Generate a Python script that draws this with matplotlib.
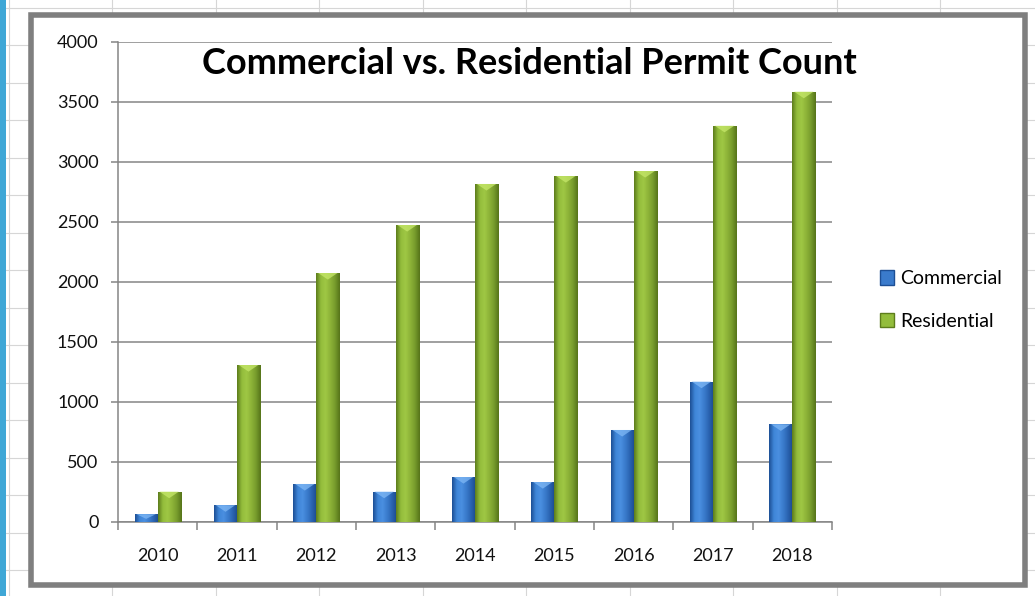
import matplotlib.pyplot as plt
import numpy as np
from matplotlib.patches import Rectangle, Polygon, Patch
from matplotlib.lines import Line2D
from matplotlib.colors import LinearSegmentedColormap

years = ["2010", "2011", "2012", "2013", "2014", "2015", "2016", "2017", "2018"]
commercial = [65, 140, 317, 253, 375, 333, 767, 1170, 814]
residential = [253, 1308, 2075, 2475, 2817, 2883, 2925, 3302, 3586]

W, H = 1035, 596
plt.rcParams["font.family"] = ["Lato", "DejaVu Sans"]

fig = plt.figure(figsize=(W / 100, H / 100), dpi=100)
fig.patch.set_facecolor("white")

def px(x, y):
    # pixel coords (top-left origin) -> figure fraction
    return x / W, 1 - y / H

# spreadsheet grid behind the chart
for gx in np.arange(8.5, W, 103.5):
    fig.add_artist(Line2D([gx / W, gx / W], [0, 1], color="#d6d6d6", lw=0.8, zorder=0.1))
for gy in np.arange(7.5, H, 37.5):
    fig.add_artist(Line2D([0, 1], [1 - gy / H, 1 - gy / H], color="#d6d6d6", lw=0.8, zorder=0.1))
fig.add_artist(Rectangle((0, 0), 6 / W, 1, transform=fig.transFigure,
                         facecolor="#3fa7d6", edgecolor="none", zorder=0.2))

# chart frame
x0, y0 = px(30.5, 585)
x1, y1 = px(1025, 14.5)
fig.add_artist(Rectangle((x0, y0), x1 - x0, y1 - y0, transform=fig.transFigure,
                         facecolor="white", edgecolor="#7f7f7f", lw=4, zorder=0.5))

ax = fig.add_axes([118 / W, 74 / H, (832 - 118) / W, (522 - 42) / H])
ax.set_zorder(2)
ax.patch.set_alpha(0)

x = np.arange(len(years))
w = 0.29

blue_cmap = LinearSegmentedColormap.from_list(
    "b", ["#1d4f95", "#3f86d8", "#4a8fe0", "#3a7bcc", "#2a63b0", "#1b4a8c"])
green_cmap = LinearSegmentedColormap.from_list(
    "g", ["#5d7d1c", "#93bd3c", "#9fc744", "#8db338", "#779c2c", "#56741a"])
grad = np.linspace(0, 1, 64).reshape(1, -1)

def shaded_bars(xs, vals, cmap, top_col, label):
    bars = ax.bar(xs, vals, width=w, color=cmap(0.5), edgecolor="none", label=label, zorder=3)
    for b in bars:
        bx, bw, bh = b.get_x(), b.get_width(), b.get_height()
        im = ax.imshow(grad, cmap=cmap, extent=(bx, bx + bw, 0, bh),
                       aspect="auto", zorder=3, interpolation="bilinear")
        im.set_clip_path(b)
        d = min(55, bh * 0.6)
        tri = Polygon([(bx + bw * 0.08, bh), (bx + bw * 0.92, bh), (bx + bw / 2, bh - d)],
                      closed=True, facecolor=top_col, edgecolor="none", alpha=0.75, zorder=4)
        ax.add_patch(tri)
    return bars

shaded_bars(x - w / 2, commercial, blue_cmap, "#7fb8f5", "Commercial")
shaded_bars(x + w / 2, residential, green_cmap, "#c6e86a", "Residential")

ax.set_xlim(-0.5, len(years) - 0.5)
ax.set_ylim(0, 4000)
ax.set_yticks(np.arange(0, 4001, 500))
ax.yaxis.grid(True, color="#858585", lw=1.1)
ax.set_axisbelow(True)

ax.set_xticks(x, years)
ax.set_xticks(np.arange(-0.5, len(years), 1), minor=True)
ax.tick_params(axis="x", which="major", length=0, pad=19, labelsize=13, colors="#111111")
ax.tick_params(axis="x", which="minor", length=6, width=1.1, color="#858585")
ax.tick_params(axis="y", length=5, width=1.1, color="#858585", pad=9, labelsize=13,
               labelcolor="#111111")

for s in ["top", "right"]:
    ax.spines[s].set_visible(False)
for s in ["left", "bottom"]:
    ax.spines[s].set_color("#858585")
    ax.spines[s].set_linewidth(1.1)

fig.text(*px(529, 63), "Commercial vs. Residential Permit Count", ha="center", va="center",
         fontsize=26, fontweight="bold", color="black", zorder=5)

handles = [Patch(facecolor="#3a7bcc", edgecolor="#1d4f95", label="Commercial"),
           Patch(facecolor="#93bd3c", edgecolor="#5d7d1c", label="Residential")]
fig.legend(handles=handles, loc="center left", bbox_to_anchor=px(862, 300),
           frameon=False, fontsize=14, handlelength=0.75, handleheight=0.75,
           handletextpad=0.3, labelspacing=1.3)

fig.savefig("out.png", dpi=100)
